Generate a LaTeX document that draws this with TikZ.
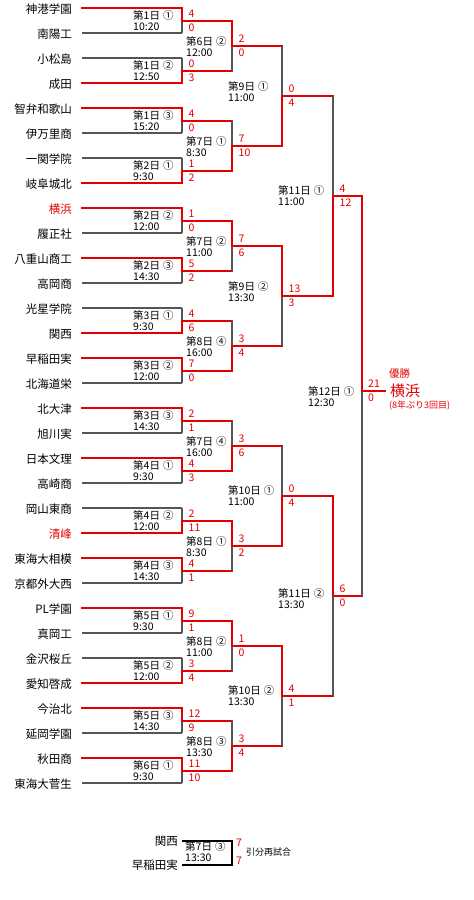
\documentclass[tikz,border=0pt]{standalone}
\usepackage{fontspec}
\setmainfont{Noto Sans CJK JP}
\usepackage{tikz}
\usetikzlibrary{calc,positioning}
\definecolor{winred}{RGB}{228,0,0}
\definecolor{losegray}{RGB}{85,85,85}
\tikzset{
  team/.style={anchor=east,inner sep=0pt,font=\fontsize{11.5}{13}\selectfont},
  gameinfo/.style={anchor=west,inner sep=0pt,align=left,font=\fontsize{10.5}{11}\selectfont},
  score/.style={anchor=west,inner sep=0pt,text=winred,font=\fontsize{10.5}{11}\selectfont},
  winline/.style={draw=winred,line width=2pt,line cap=rect},
  loseline/.style={draw=losegray,line width=1.2pt},
  replayline/.style={draw=black,line width=1.2pt},
  champ/.style={inner sep=0pt,text=winred},
  note/.style={anchor=west,inner sep=0pt,font=\fontsize{9}{10}\selectfont}
}
% winner in, loser in, level, name, top score, bottom score, date, label shift, loser-in line
\newcommand\game[9]{%
  \coordinate (#4) at ($(#1 -| #3)!0.5!(#2 -| #3)$);
  \draw[#9] (#2) -- (#2 -| #3);
  \draw[loseline] (#2 -| #3) -- (#4);
  \draw[winline] (#1) -- (#1 -| #3) -- (#4);
  \node[score] (#4a) at ($(#4)+(6.5,-7)$) {#5};
  \node[score] (#4b) at ($(#4)+(6.5,7)$) {#6};
  \node[gameinfo] (#4i) at ($(#4)+(#8)$) {#7};
}

\begin{document}
\begin{tikzpicture}[x=1pt,y=-1pt]
  \useasboundingbox (0,0) rectangle (474,900);
  \coordinate (r1) at (182,0);
  \coordinate (r2) at (232,0);
  \coordinate (r3) at (282,0);
  \coordinate (r4) at (333,0);
  \coordinate (r5) at (362,0);
  \coordinate (fx) at (385,0);

  % teams
  \foreach \nm/\tc [count=\i from 0] in {神港学園/black,南陽工/black,小松島/black,成田/black,
      智弁和歌山/black,伊万里商/black,一関学院/black,岐阜城北/black,
      横浜/winred,履正社/black,八重山商工/black,高岡商/black,
      光星学院/black,関西/black,早稲田実/black,北海道栄/black,
      北大津/black,旭川実/black,日本文理/black,高崎商/black,
      岡山東商/black,清峰/winred,東海大相模/black,京都外大西/black,
      PL学園/black,真岡工/black,金沢桜丘/black,愛知啓成/black,
      今治北/black,延岡学園/black,秋田商/black,東海大菅生/black} {
    \coordinate (p\i) at (82,8+25*\i);
    \node[team,text=\tc,left=10pt of p\i,yshift=-1pt] (t\i) {\nm};
  }

  % first round
  \game{p0}{p1}{r1}{g1}{4}{0}{第1日\hspace{3pt}①\\10:20}{-49,0.5}{loseline}
  \game{p3}{p2}{r1}{g2}{0}{3}{第1日\hspace{3pt}②\\12:50}{-49,0.5}{loseline}
  \game{p4}{p5}{r1}{g3}{4}{0}{第1日\hspace{3pt}③\\15:20}{-49,0.5}{loseline}
  \game{p7}{p6}{r1}{g4}{1}{2}{第2日\hspace{3pt}①\\9:30}{-49,0.5}{loseline}
  \game{p8}{p9}{r1}{g5}{1}{0}{第2日\hspace{3pt}②\\12:00}{-49,0.5}{loseline}
  \game{p10}{p11}{r1}{g6}{5}{2}{第2日\hspace{3pt}③\\14:30}{-49,0.5}{loseline}
  \game{p13}{p12}{r1}{g7}{4}{6}{第3日\hspace{3pt}①\\9:30}{-49,0.5}{loseline}
  \game{p14}{p15}{r1}{g8}{7}{0}{第3日\hspace{3pt}②\\12:00}{-49,0.5}{loseline}
  \game{p16}{p17}{r1}{g9}{2}{1}{第3日\hspace{3pt}③\\14:30}{-49,0.5}{loseline}
  \game{p18}{p19}{r1}{g10}{4}{3}{第4日\hspace{3pt}①\\9:30}{-49,0.5}{loseline}
  \game{p21}{p20}{r1}{g11}{2}{11}{第4日\hspace{3pt}②\\12:00}{-49,0.5}{loseline}
  \game{p22}{p23}{r1}{g12}{4}{1}{第4日\hspace{3pt}③\\14:30}{-49,0.5}{loseline}
  \game{p24}{p25}{r1}{g13}{9}{1}{第5日\hspace{3pt}①\\9:30}{-49,0.5}{loseline}
  \game{p27}{p26}{r1}{g14}{3}{4}{第5日\hspace{3pt}②\\12:00}{-49,0.5}{loseline}
  \game{p28}{p29}{r1}{g15}{12}{9}{第5日\hspace{3pt}③\\14:30}{-49,0.5}{loseline}
  \game{p30}{p31}{r1}{g16}{11}{10}{第6日\hspace{3pt}①\\9:30}{-49,0.5}{loseline}

  % second round
  \game{g1}{g2}{r2}{h1}{2}{0}{第6日\hspace{3pt}②\\12:00}{-46,1}{winline}
  \game{g4}{g3}{r2}{h2}{7}{10}{第7日\hspace{3pt}①\\8:30}{-46,1}{winline}
  \game{g5}{g6}{r2}{h3}{7}{6}{第7日\hspace{3pt}②\\11:00}{-46,1}{winline}
  \game{g8}{g7}{r2}{h4}{3}{4}{第8日\hspace{3pt}④\\16:00}{-46,1}{winline}
  \game{g10}{g9}{r2}{h5}{3}{6}{第7日\hspace{3pt}④\\16:00}{-46,1}{winline}
  \game{g11}{g12}{r2}{h6}{3}{2}{第8日\hspace{3pt}①\\8:30}{-46,1}{winline}
  \game{g13}{g14}{r2}{h7}{1}{0}{第8日\hspace{3pt}②\\11:00}{-46,1}{winline}
  \game{g16}{g15}{r2}{h8}{3}{4}{第8日\hspace{3pt}③\\13:30}{-46,1}{winline}

  % third round
  \game{h2}{h1}{r3}{k1}{0}{4}{第9日\hspace{3pt}①\\11:00}{-54,-4}{winline}
  \game{h3}{h4}{r3}{k2}{13}{3}{第9日\hspace{3pt}②\\13:30}{-54,-4}{winline}
  \game{h6}{h5}{r3}{k3}{0}{4}{第10日\hspace{3pt}①\\11:00}{-54,0}{winline}
  \game{h7}{h8}{r3}{k4}{4}{1}{第10日\hspace{3pt}②\\13:30}{-54,0}{winline}

  % semi finals
  \game{k2}{k1}{r4}{s1}{4}{12}{第11日\hspace{3pt}①\\11:00}{-55,0.5}{winline}
  \game{k3}{k4}{r4}{s2}{6}{0}{第11日\hspace{3pt}②\\13:30}{-55,3}{winline}

  % final
  \coordinate (f) at ($(s1 -| r5)!0.488!(s2 -| r5)$);
  \draw[winline] (s2) -- (s2 -| r5);
  \draw[loseline] (s2 -| r5) -- (f);
  \draw[winline] (s1) -- (s1 -| r5) -- (f) -- (f -| fx) coordinate (fend);
  \node[score] (fa) at ($(f)+(6,-7.5)$) {21};
  \node[score] (fb) at ($(f)+(6,7.5)$) {0};
  \node[gameinfo] (fi) at ($(f)+(-54,6)$) {第12日\hspace{3pt}①\\12:30};
  \node[champ,font=\fontsize{15}{17}\selectfont,right=5pt of fend] (champion) {横浜};
  \node[champ,font=\fontsize{10.5}{12}\selectfont,above right=5pt and -1pt of champion.north west] (yusho) {優勝};
  \node[champ,font=\fontsize{9}{11}\selectfont,below right=3pt and -1pt of champion.south west] (record) {(8年ぶり3回目)};

  % replay
  \coordinate (q1p) at (182,841);
  \coordinate (q2p) at (182,865);
  \coordinate (rq) at (232,0);
  \node[team,left=4pt of q1p] (q1) {関西};
  \node[team,left=4pt of q2p] (q2) {早稲田実};
  \draw[replayline] (q1p) -- (q1p -| rq) -- (q2p -| rq) -- (q2p);
  \node[gameinfo] (qi) at (185,852) {第7日\hspace{3pt}③\\13:30};
  \node[score] (qa) at (236,843) {7};
  \node[score] (qb) at (236,861) {7};
  \node[note] (qn) at (246,852) {引分再試合};
\end{tikzpicture}
\end{document}
